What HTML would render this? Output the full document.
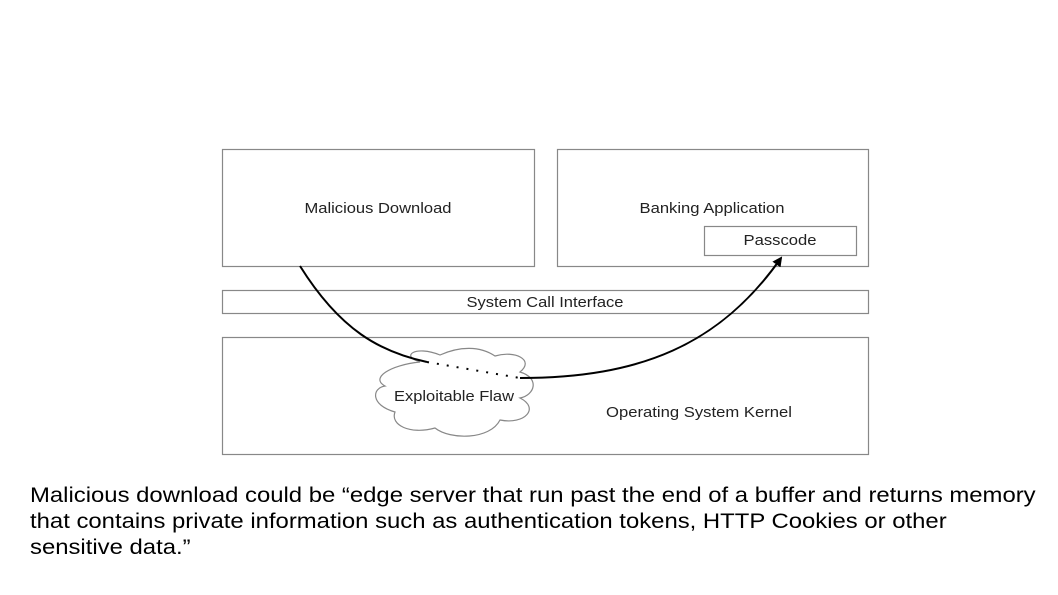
<!DOCTYPE html>
<html><head><style>
body{margin:0;background:#fff;width:1058px;height:595px;overflow:hidden;font-family:"Liberation Sans",sans-serif}
.cap{position:absolute;left:30px;top:483px;font-size:21px;line-height:26px;color:#000;transform:scaleX(1.137);transform-origin:0 0;white-space:nowrap}
</style></head><body>
<svg width="1058" height="595" style="position:absolute;left:0;top:0" font-family="Liberation Sans, sans-serif">
<defs><marker id="a" markerWidth="10" markerHeight="10" refX="8" refY="5" orient="auto" markerUnits="userSpaceOnUse"><path d="M0,0 L10,5 L0,10 Z" fill="#000"/></marker></defs>
<g fill="#fff" stroke="#888" stroke-width="1.2">
<rect x="222.5" y="149.5" width="312" height="117"/>
<rect x="557.5" y="149.5" width="311" height="117"/>
<rect x="704.5" y="226.5" width="152" height="29"/>
<rect x="222.5" y="290.5" width="646" height="23"/>
<rect x="222.5" y="337.5" width="646" height="117"/>
</g>
<g font-size="14.5" fill="#222" text-anchor="middle">
<text x="378" y="213" textLength="147" lengthAdjust="spacingAndGlyphs">Malicious Download</text>
<text x="712" y="213" textLength="145" lengthAdjust="spacingAndGlyphs">Banking Application</text>
<text x="780" y="245" textLength="73" lengthAdjust="spacingAndGlyphs">Passcode</text>
<text x="545" y="307" textLength="157" lengthAdjust="spacingAndGlyphs">System Call Interface</text>
<text x="699" y="417" textLength="186" lengthAdjust="spacingAndGlyphs">Operating System Kernel</text>
</g>
<path d="M420,362 C400,356 415,345 440,355 C460,346 480,346 495,356 C515,350 535,360 520,372 C540,378 535,395 520,398 C540,408 525,425 500,420 C490,440 450,440 435,428 C410,435 390,425 395,412 C370,405 372,388 385,386 C370,378 390,365 420,362 Z" fill="#fff" stroke="#888" stroke-width="1.2"/>
<text x="454" y="401" font-size="14.5" fill="#222" text-anchor="middle" textLength="120" lengthAdjust="spacingAndGlyphs">Exploitable Flaw</text>
<path d="M300,266 C340,330 380,352 427,362" fill="none" stroke="#000" stroke-width="2"/>
<path d="M427,362 L520,378" fill="none" stroke="#000" stroke-width="2" stroke-dasharray="2,8"/>
<path d="M520,378 C640,378 720,345 781,258" fill="none" stroke="#000" stroke-width="2" marker-end="url(#a)"/>
</svg>
<div class="cap">Malicious download could be “edge server that run past the end of a buffer and returns memory<br>that contains private information such as authentication tokens, HTTP Cookies or other<br>sensitive data.”</div>
</body></html>
